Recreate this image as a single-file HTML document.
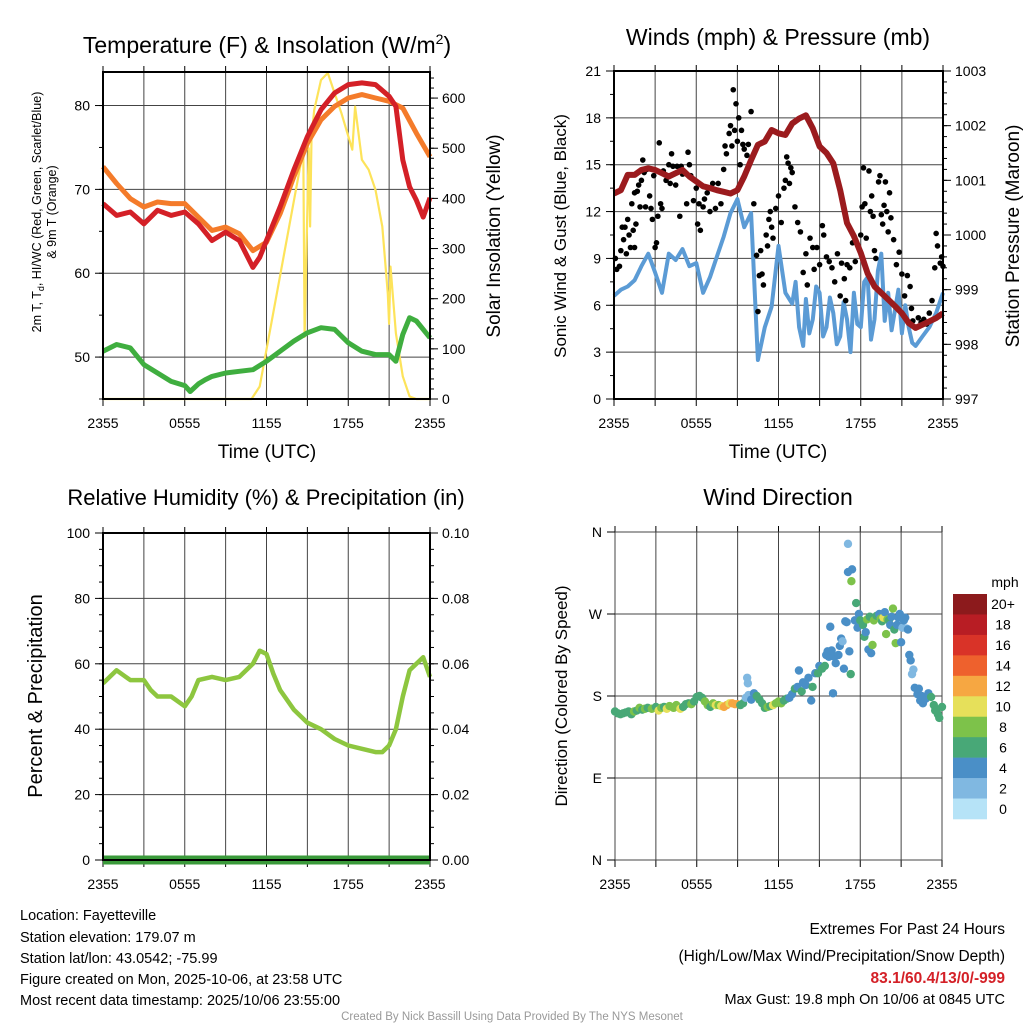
<!DOCTYPE html>
<html><head><meta charset="utf-8"><style>
body{margin:0;background:#fff;width:1024px;height:1024px;overflow:hidden}
svg{display:block;font-family:"Liberation Sans",Arial,sans-serif}
</style></head><body>
<svg id="chart" width="1024" height="1024" viewBox="0 0 1024 1024">
<g id="footer">
<text x="20" y="920" font-size="14.5">Location: Fayetteville</text>
<text x="20" y="942" font-size="14.5">Station elevation: 179.07 m</text>
<text x="20" y="963" font-size="14.5">Station lat/lon: 43.0542; -75.99</text>
<text x="20" y="984" font-size="14.5">Figure created on Mon, 2025-10-06, at 23:58 UTC</text>
<text x="20" y="1005" font-size="14.5">Most recent data timestamp: 2025/10/06 23:55:00</text>
<text x="1005" y="934" font-size="15.5" text-anchor="end">Extremes For Past 24 Hours</text>
<text x="1005" y="961" font-size="15.5" text-anchor="end">(High/Low/Max Wind/Precipitation/Snow Depth)</text>
<text x="1005" y="983" font-size="15.5" font-weight="bold" fill="#d42027" text-anchor="end">83.1/60.4/13/0/-999</text>
<text x="1005" y="1004" font-size="14.5" text-anchor="end">Max Gust: 19.8 mph On 10/06 at 0845 UTC</text>
<text x="512" y="1020" font-size="11.5" fill="#999" text-anchor="middle">Created By Nick Bassill Using Data Provided By The NYS Mesonet</text>
</g>
</svg>
<script>
// ---------- data ----------
const timeTicks = ["2355","0555","1155","1755","2355"];
const hourGrid = [0,3,6,9,12,15,18,21,24];
// panel 1
const tempHours = [0,1,2,3,4,5,6,7,8,9,10,11,11.5,12,13,14,15,16,17,18,19,20,21,21.5,22,22.5,23,23.5,24];
const redTemp = [68.3,66.9,67.3,65.9,67.5,66.9,67.3,65.9,63.9,64.9,63.9,60.7,61.9,63.9,67.9,72.3,76.3,79.5,81.5,82.5,82.7,82.5,81.1,79.9,73.5,70.3,68.7,66.7,69];
const orangeHours = [0,1,2,3,4,5,6,7,8,9,10,11,12,13,14,15,16,17,18,19,20,21,22,23,24];
const orangeTemp = [72.7,70.7,68.9,67.9,68.5,68.3,68.3,66.7,65.1,65.5,64.7,62.7,63.7,67.1,71.5,75.5,78.3,79.9,80.9,81.3,80.9,80.5,79.7,76.7,73.9];
const greenHours = [0,1,2,3,4,5,6,6.4,7,7.5,8,9,10,11,12,13,14,15,16,17,18,19,20,21,21.5,22,22.5,23,24];
const greenTemp = [50.7,51.5,51.1,49.1,48.1,47.1,46.6,45.9,46.8,47.3,47.7,48.1,48.3,48.5,49.5,50.7,51.9,52.9,53.5,53.3,51.7,50.7,50.3,50.3,49.5,52.7,54.7,54.3,52.3];
const solarHours = [0,10.9,11.5,14.7,14.8,15.1,15.2,15.3,15.5,16,16.5,17,17.5,18.3,18.5,19,19.5,20,20.5,20.9,21,21.1,21.5,22,22.5,23,24];
const solarVals = [0,0,25,497,124,500,344,520,576,636,650,610,570,497,583,477,457,417,344,210,150,264,131,45,5,0,0];
// panel 2
const windHours = [0,0.5,1,1.5,2,2.5,3,3.5,4,4.5,5,5.5,6,6.5,7,7.5,8,8.5,9,9.5,10,10.5,11,11.5,12,12.5,13,13.25,13.5,13.8,14,14.25,14.5,14.75,15,15.25,15.5,15.75,16,16.25,16.5,16.75,17,17.25,17.5,17.75,18,18.25,18.5,18.75,19,19.25,19.5,19.75,20,20.25,20.5,20.75,21,21.25,21.5,21.75,22,22.5,23,23.5,24];
const windSpeed = [6.6,7.0,7.2,7.6,8.5,9.3,8.1,6.8,9.3,8.9,9.6,8.5,8.7,6.8,7.8,9.1,10.4,11.9,12.8,11.0,11.9,2.5,4.6,5.9,9.8,6.8,6.1,7.5,4.6,3.4,6.4,4.2,5.1,7.2,6.8,4.0,4.6,6.5,5.5,3.5,4.0,6.2,5.1,3.0,6.8,4.8,4.6,7.5,7.8,3.8,5.1,8.2,9.3,5.0,6.8,4.4,5.7,7.0,4.2,6.0,4.6,3.6,3.4,4.0,4.6,5.5,6.8];
const presHours = [0,0.5,1,1.5,2,2.5,3,3.5,4,4.5,5,5.5,6,6.5,7,7.5,8,8.5,9,9.5,10,10.5,11,11.5,12,12.5,13,13.5,14,14.5,15,15.5,16,16.5,17,17.5,18,18.5,19,19.5,20,20.5,21,21.5,22,22.5,23,23.5,24];
const pressure = [1000.76,1000.82,1001.10,1001.10,1001.19,1001.22,1001.19,1001.13,1001.07,1001.13,1001.19,1001.07,1000.98,1000.89,1000.86,1000.82,1000.79,1000.76,1000.82,1001.07,1001.37,1001.65,1001.71,1001.92,1001.86,1001.83,1002.04,1002.13,1002.19,1001.95,1001.62,1001.50,1001.31,1000.82,1000.22,999.98,999.67,999.30,999.06,998.94,998.82,998.70,998.57,998.39,998.30,998.36,998.42,998.48,998.57];
const gustHours = [0.1,0.2,0.4,0.5,0.6,0.7,0.8,0.9,1.0,1.1,1.2,1.3,1.4,1.5,1.5,1.6,1.7,1.8,1.9,2.0,2.1,2.2,2.3,2.4,2.6,2.7,2.8,2.9,3.0,3.1,3.2,3.3,3.4,3.5,3.6,3.8,4.0,4.1,4.2,4.3,4.5,4.6,4.8,4.9,5.0,5.3,5.4,5.5,5.6,5.8,6.0,6.1,6.2,6.3,6.5,6.6,6.8,7.0,7.2,7.4,7.6,7.8,8.0,8.1,8.2,8.4,8.5,8.6,8.7,8.8,8.9,9.0,9.1,9.2,9.3,9.4,9.5,9.7,9.8,10.0,10.2,10.4,10.5,10.6,10.7,10.8,10.9,11.1,11.2,11.3,11.4,11.5,11.6,11.8,12.0,12.2,12.4,12.5,12.6,12.7,12.8,12.9,13.0,13.2,13.4,13.6,13.8,14.0,14.1,14.3,14.5,14.6,14.8,15.0,15.2,15.3,15.5,15.7,15.9,16.1,16.3,16.5,16.6,16.8,16.9,17.0,17.2,17.4,17.6,17.8,18.0,18.1,18.2,18.3,18.4,18.6,18.7,18.8,18.9,19.0,19.1,19.3,19.4,19.5,19.6,19.7,19.8,19.9,20.0,20.1,20.2,20.4,20.6,20.8,21.0,21.2,21.4,21.6,21.7,21.8,22.0,22.2,22.4,22.6,22.8,23.0,23.2,23.4,23.5,23.6,23.8,23.9,24.0];
const gustVals = [9.0,8.3,8.5,9.5,11.0,10.2,11.0,9.3,11.5,10.5,9.7,12.5,10.8,13.2,9.7,11.2,13.3,13.7,12.3,14.0,15.3,14.5,12.3,14.7,13.0,12.2,11.5,14.3,9.7,10.0,11.7,16.4,12.5,12.2,14.6,14.0,15.0,13.8,15.7,14.9,13.7,14.9,11.7,14.9,14.4,12.5,15.8,15.0,14.3,12.7,13.5,11.2,12.5,10.8,12.3,12.8,13.2,12.0,13.8,12.2,13.8,12.5,14.7,16.2,15.7,17.0,17.5,16.2,19.8,17.2,18.9,16.5,18.0,15.0,17.2,16.3,16.0,15.6,16.3,18.4,12.5,9.2,5.6,7.9,9.5,8.0,7.3,10.5,9.8,11.5,12.0,11.0,10.3,12.2,13.0,11.3,13.5,14.0,15.5,15.1,13.8,14.8,14.5,12.3,11.3,10.7,8.1,9.3,7.3,10.3,9.7,8.3,9.7,8.6,11.1,10.5,9.1,8.8,8.4,7.5,9.3,6.6,8.7,7.7,6.3,8.6,8.4,10.0,8.8,9.8,10.5,12.3,14.8,12.5,10.3,14.6,12.0,13.0,11.7,9.5,9.0,13.9,14.3,11.8,11.2,12.4,13.9,12.0,10.7,13.2,11.6,10.2,8.6,9.4,8.0,6.6,7.9,7.2,5.8,5.0,4.6,5.2,4.9,5.1,4.8,5.5,6.3,8.4,10.6,9.8,8.7,9.1,8.5];
// panel 3
const rhHours = [0,1,2,3,3.5,4,5,6,6.5,7,8,9,10,11,11.5,12,12.5,13,14,15,16,17,18,19,20,20.5,21,21.5,22,22.5,23,23.5,24];
const rhVals = [54,58,55,55,52,50,50,47,50,55,56,55,56,60,64,63,57,52,46,42,40,37,35,34,33,33,35,40,50,58,60,62,56];
const precipHours = [0,24];
const precipVals = [0,0];
// panel 4
const dirHours = [0,0.2,0.4,0.6,0.8,1.0,1.2,1.4,1.6,1.8,2.0,2.2,2.4,2.7,3.0,3.2,3.4,3.6,3.8,4.0,4.3,4.5,4.8,5.0,5.2,5.4,5.6,5.8,6.0,6.2,6.4,6.6,6.8,7.0,7.2,7.4,7.6,7.8,8.0,8.2,8.4,8.6,8.8,9.0,9.2,9.4,9.6,9.7,9.75,9.8,10.0,10.2,10.4,10.6,10.8,11.0,11.2,11.4,11.6,11.8,12.0,12.2,12.4,12.6,12.8,13.0,13.2,13.4,13.5,13.7,13.8,14.0,14.2,14.4,14.5,14.7,14.9,15.0,15.2,15.4,15.5,15.6,15.7,15.8,15.9,16.0,16.1,16.2,16.4,16.5,16.6,16.7,16.8,16.9,17.0,17.1,17.2,17.3,17.35,17.4,17.6,17.7,17.8,17.9,18.0,18.2,18.3,18.4,18.5,18.6,18.7,18.8,18.9,19.0,19.2,19.4,19.5,19.6,19.7,19.8,19.9,20.0,20.1,20.2,20.3,20.4,20.5,20.6,20.7,20.8,20.9,21.0,21.1,21.2,21.3,21.4,21.5,21.6,21.7,21.8,21.9,22.0,22.2,22.3,22.4,22.5,22.6,22.8,23.0,23.2,23.4,23.5,23.6,23.7,23.8,24.0];
const dirDeg = [163,161,160,161,162,163,160,163,164,167,165,166,167,166,168,164,167,168,166,169,167,170,166,168,171,172,171,174,179,180,178,174,170,168,172,170,170,169,168,170,172,172,171,171,170,172,178,200,194,181,176,183,180,176,172,167,168,169,170,172,174,172,175,177,178,182,188,190,208,185,195,192,200,175,190,205,205,213,210,213,225,229,223,256,230,183,223,216,225,235,243,240,210,262,261,316,229,204,306,319,263,282,255,270,263,258,245,250,264,231,267,227,236,263,268,270,265,262,266,272,248,264,263,258,267,276,253,238,258,266,270,239,255,263,266,254,253,225,219,204,209,189,182,188,175,180,172,177,183,179,170,164,165,160,156,168];
const dirSpeed = [6,6,6,7,6,7,6,8,7,8,7,8,7,8,6,10,8,7,10,8,8,8,10,7,6,7,8,6,6,6,7,8,8,7,8,10,9,11,12,12,11,12,12,12,6,7,3,2,2,3,4,4,6,6,7,6,8,7,10,9,8,9,7,6,4,4,6,4,4,6,4,4,4,4,6,4,6,4,6,6,4,4,4,4,4,4,4,4,4,4,4,2,4,4,4,4,4,6,8,4,4,6,4,4,6,6,6,4,8,4,6,4,8,8,6,4,8,6,10,4,8,8,6,4,4,8,6,8,4,4,4,4,2,4,4,2,4,4,4,2,2,4,4,4,4,4,4,4,4,6,6,6,6,6,6,6];
const dirSpike = [[17.1,347,2]];
const speedLabels = ["20+","18","16","14","12","10","8","6","4","2","0"];
const speedColors = ["#8c1a1c","#b81d24","#d93328","#ee612d","#f6a742","#e6e05a","#7dc24a","#48a877","#4a8fc7","#80b8e1","#b6e3f7"];

// ---------- helpers ----------
const NS="http://www.w3.org/2000/svg";
const svg=document.getElementById('chart');
function el(tag,attrs,parent){const e=document.createElementNS(NS,tag);for(const k in attrs)e.setAttribute(k,attrs[k]);(parent||svg).appendChild(e);return e;}
function txt(s,attrs,parent){const t=el('text',attrs,parent);t.textContent=s;return t;}
function lin(d0,d1,r0,r1){return v=>r0+(v-d0)/(d1-d0)*(r1-r0);}
function poly(xs,ys,fx,fy){return xs.map((h,i)=>fx(h).toFixed(1)+','+fy(ys[i]).toFixed(1)).join(' ');}

function frame(P,name){
  const g=el('g',{});
  
  
  P.g=g;
  P.fx=lin(0,24,P.x0,P.x1);
  P.fy=lin(P.yl0,P.yl1,P.y1,P.y0);
  return g;
}
function gridAndAxes(P,leftTicks,leftLabels,rightTicks,rightLabels,fyr,minorL,minorR){
  const g=el('g',{},P.g);
  
  
  hourGrid.forEach(h=>{el('line',{x1:P.fx(h),x2:P.fx(h),y1:P.y0,y2:P.y1,stroke:'#444','stroke-width':1},g);
    el('line',{x1:P.fx(h),x2:P.fx(h),y1:P.y1,y2:P.y1+7,stroke:'#000','stroke-width':1},g);
    el('line',{x1:P.fx(h),x2:P.fx(h),y1:P.y0,y2:P.y0-6,stroke:'#000','stroke-width':1},g);});
  leftTicks.forEach((v,i)=>{const y=P.fy(v);
    el('line',{x1:P.x0,x2:P.x1,y1:y,y2:y,stroke:'#444','stroke-width':1},g);
    el('line',{x1:P.x0-8,x2:P.x0,y1:y,y2:y,stroke:'#000'},g);
    const t=txt(leftLabels[i],{x:P.x0-13,y:y+5,'font-size':14,'text-anchor':'end'},P.g);
    
    });
  (minorL||[]).forEach(v=>el('line',{x1:P.x0-4,x2:P.x0,y1:P.fy(v),y2:P.fy(v),stroke:'#000'},g));
  rightTicks.forEach((v,i)=>{const y=fyr(v);
    el('line',{x1:P.x1,x2:P.x1+8,y1:y,y2:y,stroke:'#000'},g);
    const t=txt(rightLabels[i],{x:P.x1+12,y:y+5,'font-size':14},P.g);
    
    });
  (minorR||[]).forEach(v=>el('line',{x1:P.x1,x2:P.x1+4,y1:fyr(v),y2:fyr(v),stroke:'#000'},g));
  timeTicks.forEach((s,i)=>{const t=txt(s,{x:P.fx(i*6),y:P.y1+29,'font-size':14,'text-anchor':'middle'},P.g);
    
    });
}
function border(P){el('rect',{x:P.x0,y:P.y0,width:P.x1-P.x0,height:P.y1-P.y0,fill:'none',stroke:'#000','stroke-width':2},P.g);}
function range(a,b,s){const r=[];for(let v=a;v<=b+1e-9;v+=s)r.push(+v.toFixed(4));return r;}

// ---------- panel 1 ----------
const P1={x0:103,x1:430,y0:72,y1:399,yl0:45,yl1:84};
frame(P1,'temperature-panel');
const fyS=lin(0,652,P1.y1,P1.y0);
gridAndAxes(P1,[50,60,70,80],["50","60","70","80"],[0,100,200,300,400,500,600],["0","100","200","300","400","500","600"],fyS,range(45,84,5),range(0,650,20));
let s=el('polyline',{points:poly(solarHours,solarVals,P1.fx,fyS),fill:'none',stroke:'#fde35a','stroke-width':2.2,'stroke-linejoin':'round'},P1.g);


s=el('polyline',{points:poly(orangeHours,orangeTemp,P1.fx,P1.fy),fill:'none',stroke:'#f47b2a','stroke-width':5,'stroke-linejoin':'round'},P1.g);


s=el('polyline',{points:poly(tempHours,redTemp,P1.fx,P1.fy),fill:'none',stroke:'#d42027','stroke-width':5,'stroke-linejoin':'round'},P1.g);


s=el('polyline',{points:poly(greenHours,greenTemp,P1.fx,P1.fy),fill:'none',stroke:'#3fae3f','stroke-width':5,'stroke-linejoin':'round'},P1.g);


border(P1);
s=txt('',{x:267,y:53,'font-size':23,'text-anchor':'middle'},P1.g);
s.innerHTML='Temperature (F) &amp; Insolation (W/m<tspan dy="-9" font-size="14">2</tspan><tspan dy="9">)</tspan>';


s=txt('Time (UTC)',{x:267,y:458,'font-size':19,'text-anchor':'middle'},P1.g);


s=txt('',{transform:'translate(41,212) rotate(-90)','font-size':12.5,'text-anchor':'middle'},P1.g);
s.innerHTML='2m T, T<tspan dy="3" font-size="9">d</tspan><tspan dy="-3">, HI/WC (Red, Green, Scarlet/Blue)</tspan>';


s=txt('& 9m T (Orange)',{transform:'translate(56,212) rotate(-90)','font-size':12.5,'text-anchor':'middle'},P1.g);


s=txt('Solar Insolation (Yellow)',{transform:'translate(500,236) rotate(-90)','font-size':19,'text-anchor':'middle'},P1.g);



// ---------- panel 2 ----------
const P2={x0:614,x1:943,y0:71,y1:399,yl0:0,yl1:21};
frame(P2,'winds-panel');
const fyP=lin(997,1003,P2.y1,P2.y0);
gridAndAxes(P2,[0,3,6,9,12,15,18,21],["0","3","6","9","12","15","18","21"],[997,998,999,1000,1001,1002,1003],["997","998","999","1000","1001","1002","1003"],fyP,range(0,21,1.5),range(997,1003,0.2));
s=el('polyline',{points:poly(windHours,windSpeed,P2.fx,P2.fy),fill:'none',stroke:'#5b9bd5','stroke-width':4,'stroke-linejoin':'round'},P2.g);


gustHours.forEach((h,i)=>{const c=el('circle',{cx:P2.fx(h),cy:P2.fy(gustVals[i]),r:2.8,fill:'#000'},P2.g);
  
  });
s=el('polyline',{points:poly(presHours,pressure,P2.fx,fyP),fill:'none',stroke:'#9b1b1e','stroke-width':6,'stroke-linejoin':'round'},P2.g);


border(P2);
s=txt('Winds (mph) & Pressure (mb)',{x:778,y:45,'font-size':23,'text-anchor':'middle'},P2.g);


s=txt('Time (UTC)',{x:778,y:458,'font-size':19,'text-anchor':'middle'},P2.g);


s=txt('Sonic Wind & Gust (Blue, Black)',{transform:'translate(566,236) rotate(-90)','font-size':17,'text-anchor':'middle'},P2.g);


s=txt('Station Pressure (Maroon)',{transform:'translate(1019,236) rotate(-90)','font-size':19,'text-anchor':'middle'},P2.g);



// ---------- panel 3 ----------
const P3={x0:103,x1:430,y0:533,y1:860,yl0:0,yl1:100};
frame(P3,'humidity-panel');
const fyR=lin(0,0.1,P3.y1,P3.y0);
gridAndAxes(P3,[0,20,40,60,80,100],["0","20","40","60","80","100"],[0,0.02,0.04,0.06,0.08,0.1],["0.00","0.02","0.04","0.06","0.08","0.10"],fyR,range(0,100,5),range(0,0.1,0.005));
s=el('polyline',{points:poly(rhHours,rhVals,P3.fx,P3.fy),fill:'none',stroke:'#8dc63f','stroke-width':4.5,'stroke-linejoin':'round'},P3.g);


s=el('polyline',{points:poly(precipHours,precipVals,P3.fx,fyR),fill:'none',stroke:'#3a9a3a','stroke-width':9},P3.g);


border(P3);
s=txt('Relative Humidity (%) & Precipitation (in)',{x:266,y:505,'font-size':22,'text-anchor':'middle'},P3.g);


s=txt('Percent & Precipitation',{transform:'translate(42,696) rotate(-90)','font-size':20,'text-anchor':'middle'},P3.g);



// ---------- panel 4 ----------
const P4={x0:615,x1:942,y0:532,y1:860,yl0:0,yl1:360};
frame(P4,'wind-direction-panel');
gridAndAxes(P4,[0,90,180,270,360],["N","E","S","W","N"],[],[],P4.fy,[],[]);
function spdColor(v){const idx=Math.min(10,Math.floor(v/2));return speedColors[10-idx];}
dirHours.forEach((h,i)=>{const c=el('circle',{cx:P4.fx(h),cy:P4.fy(dirDeg[i]),r:4.2,fill:spdColor(dirSpeed[i])},P4.g);
  
  });
dirSpike.forEach(p=>{const c=el('circle',{cx:P4.fx(p[0]),cy:P4.fy(p[1]),r:4.2,fill:spdColor(p[2])},P4.g);
  
  });
s=txt('Wind Direction',{x:778,y:505,'font-size':23,'text-anchor':'middle'},P4.g);


s=txt('Direction (Colored By Speed)',{transform:'translate(567,696) rotate(-90)','font-size':17,'text-anchor':'middle'},P4.g);


// colorbar
const cb=el('g',{});


const bh=225/speedColors.length;
speedColors.forEach((c,i)=>{const r=el('rect',{x:953,y:594+i*bh,width:34,height:bh+0.3,fill:c},cb);
  
  
  const t=txt(speedLabels[i],{x:1003,y:594+i*bh+bh/2+5,'font-size':14,'text-anchor':'middle'},cb);
  
  });
s=txt('mph',{x:1005,y:587,'font-size':14,'text-anchor':'middle'},cb);


</script>
</body></html>
